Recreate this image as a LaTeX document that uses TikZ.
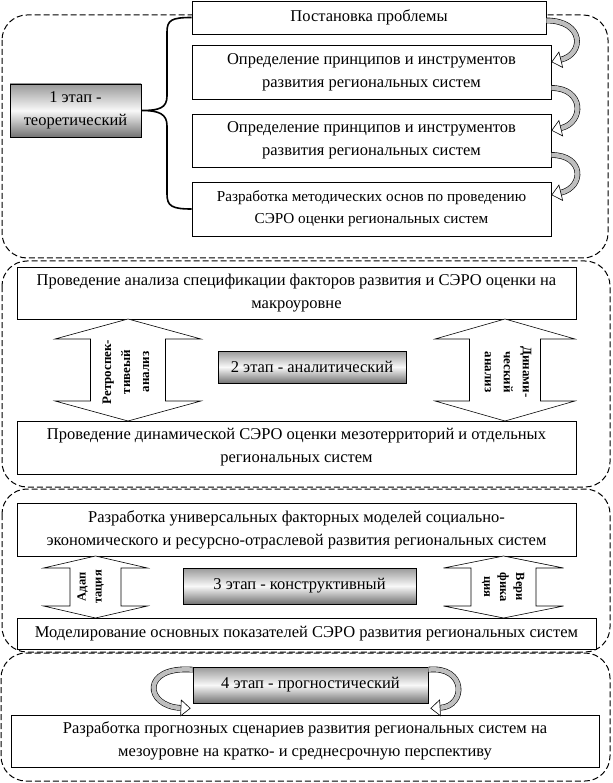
\documentclass[tikz,border=0pt]{standalone}
\usepackage{fontspec}
\setmainfont{Liberation Serif}
\usetikzlibrary{positioning,calc,arrows.meta}

% hollow double arrow with its tips on two boxes
\newcommand{\dblarrow}[6]{%
  \draw[dblarr] (#1,#2) -- ++(#5,#6) -- ++({#4-#5},0) -- ({#1+#4},{#3-#6})
    -- ++({#5-#4},0) -- (#1,#3) -- ++(-#5,-#6) -- ++({#5-#4},0)
    -- ({#1-#4},{#2+#6}) -- ++({#4-#5},0) -- cycle;}

\begin{document}
\begin{tikzpicture}[x=1pt, y=-1pt,
    txt/.style={font=\fontsize{16.5}{23}\selectfont, align=center},
    box/.style={draw, line width=0.7pt, fill=white, txt},
    stage/.style={draw, line width=0.7pt, top color=gray!80, bottom color=gray!90!black,
      middle color=gray!5, txt},
    frame/.style={draw, line width=1pt, dash pattern=on 6pt off 3pt, rounded corners=25pt},
    brace/.style={draw, line width=1.6pt},
    curv/.style={draw, line width=0.6pt, double=gray!50, double distance=4.5pt,
      -{Triangle[open, fill=white, length=10pt, width=17pt]}},
    dblarr/.style={draw, line width=0.6pt, fill=white},
    vlab/.style={font=\fontsize{13}{19}\selectfont\bfseries, align=center},
    vlabs/.style={font=\fontsize{12.5}{16}\selectfont\bfseries, align=center}]
    \useasboundingbox (0,0) rectangle (612,783);

    % stage 1
    \draw[frame] (2,15) rectangle (608,258);
    \node[box, minimum width=354, minimum height=33] (p1) at (369,17.5) {Постановка проблемы};
    \node[box, minimum width=359, minimum height=54] (p2) at (371.5,72)
        {Определение принципов и инструментов\\развития региональных систем};
    \node[box, minimum width=359, minimum height=53] (p3) at (371.5,140.5)
        {Определение принципов и инструментов\\развития региональных систем};
    \node[box, minimum width=359, minimum height=54, font=\fontsize{15.2}{22}\selectfont] (p4) at (371.5,209)
        {Разработка методических основ по проведению\\СЭРО оценки региональных систем};
    \node[stage, minimum width=131, minimum height=53] (l1) at (75.5,110.5) {1 этап -\\теоретический};

    \draw[brace] (p1.west) .. controls +(-20,0) and +(0,-12) .. (167,32) -- (167,96)
        .. controls +(0,12) and +(18,0) .. (l1.east)
        .. controls +(18,0) and +(0,-12) .. (167,126) -- (167,194)
        .. controls +(0,12) and +(-20,0) .. (p4.west);

    \draw[curv] ($(p1.east)+(0,3)$) .. controls +(38,0) and +(33,-8) .. ($(p2.east)+(0,-10)$);
    \draw[curv] ($(p2.east)+(0,16)$) .. controls +(33,0) and +(33,-8) .. ($(p3.east)+(0,-10)$);
    \draw[curv] ($(p3.east)+(0,14.5)$) .. controls +(33,0) and +(33,-8) .. ($(p4.east)+(0,-14)$);

    % stage 2
    \draw[frame] (2,261) rectangle (610,487);
    \node[box, minimum width=559, minimum height=52] (a1) at (296.5,293)
        {Проведение анализа спецификации факторов развития и СЭРО оценки на\\макроуровне};
    \node[box, minimum width=559, minimum height=53] (a2) at (296.5,447.5)
        {Проведение динамической СЭРО оценки мезотерриторий и отдельных\\региональных систем};
    \node[stage, minimum width=188, minimum height=32] (l2) at (312,367) {2 этап - аналитический};

    \dblarrow{128}{319}{421}{37.5}{73}{20}
    \dblarrow{505}{319}{421}{35.5}{70}{20}
    \node[vlab, rotate=90] (retro) at (126,372) {Ретроспек-\\тивеый\\анализ};
    \node[vlab, rotate=-90] (dyn) at (508,372) {Динами-\\ческий\\анализ};

    % stage 3
    \draw[frame] (2,489) rectangle (610,652);
    \node[box, minimum width=559, minimum height=53] (c1) at (296.5,529.5)
        {Разработка универсальных факторных моделей социально-\\экономического и ресурсно-отраслевой развития региональных систем};
    \node[box, minimum width=579, minimum height=31] (c2) at (306.5,633.5)
        {Моделирование основных показателей СЭРО развития региональных систем};
    \node[stage, minimum width=233, minimum height=36] (l3) at (299.5,586) {3 этап - конструктивный};

    \dblarrow{95.5}{556}{618}{25.5}{52}{12}
    \dblarrow{503.5}{556}{618}{32.5}{60}{12}
    \node[vlabs, rotate=90] (adapt) at (90.5,587) {Адап\\тация};
    \node[vlabs, rotate=-90] (verif) at (503,587) {Вери\\фика\\ция};

    % stage 4
    \draw[frame] (1,653) rectangle (610,781);
    \node[stage, minimum width=235, minimum height=36] (l4) at (310.5,685) {4 этап - прогностический};
    \node[box, minimum width=588, minimum height=52] (f1) at (305,741)
        {Разработка прогнозных сценариев развития региональных систем на\\мезоуровне на кратко- и среднесрочную перспективу};

    \draw[curv] ($(l4.north west)+(0,3)$) .. controls +(-52,-4) and +(-46,-2) .. ($(l4.south west)+(-2,5)$);
    \draw[curv] ($(l4.north east)+(0,3)$) .. controls +(38,-4) and +(36,-2) .. ($(l4.south east)+(2,5)$);
\end{tikzpicture}
\end{document}
